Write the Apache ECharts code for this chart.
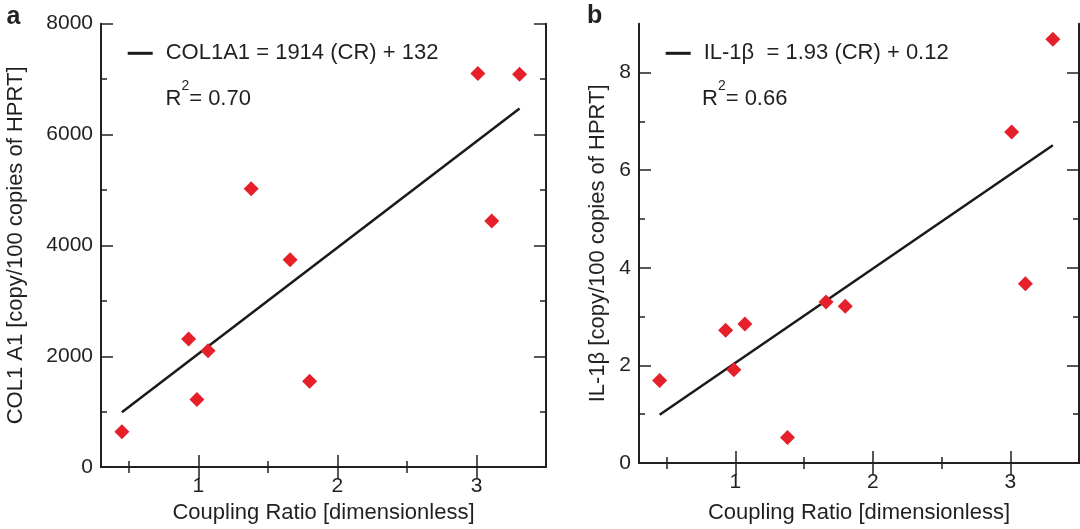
<!DOCTYPE html>
<html>
<head>
<meta charset="utf-8">
<script src="https://cdn.jsdelivr.net/npm/echarts@6.0.0/dist/echarts.min.js"></script>
<style>
  html, body { margin: 0; padding: 0; background: #fff; }
  #chart { width: 1080px; height: 529px; }
</style>
</head>
<body>
<div id="chart"></div>
<script>
// coupling ratio of each sample (shared by both panels)
const couplingRatio = [0.45, 0.93, 0.99, 1.07, 1.38, 1.66, 1.80, 3.01, 3.11, 3.31]
const col1a1 = [640, 2310, 1220, 2100, 5020, 3740, 1550, 7100, 4440, 7090]
const il1b = [1.69, 2.72, 1.91, 2.85, 0.52, 3.30, 3.21, 6.78, 3.67, 8.68]

// regression lines, read at both ends of the data range
const fitRange = [0.45, 3.31]
const col1a1Fit = [990, 6470]
const il1bFit = [0.99, 6.51]

const xTicks = [1, 2, 3]
const xMinorTicks = [0.5, 1.5, 2.5]
const col1a1Ticks = [0, 2000, 4000, 6000, 8000]
const col1a1MinorTicks = [1000, 3000, 5000, 7000]
const il1bTicks = [0, 2, 4, 6, 8]
const il1bMinorTicks = [1, 3, 5, 7]

const col1a1Name = 'COL1A1 = 1914 (CR) + 132'
const il1bName = 'IL-1\u03b2  = 1.93 (CR) + 0.12'

const ink = '#231f20'
const red = '#e5202a'
const fontFamily = '"Liberation Sans", Arial, Helvetica, sans-serif'

const chart = echarts.init(document.getElementById('chart'), null, { renderer: 'canvas' })

const frame = { show: true, lineStyle: { color: ink, width: 2 } }

// one box side = a major axis (line, long ticks, labels) + a minor axis (short ticks only)
function side (type, gridIndex, position, min, max, ticks, minorTicks, opts) {
  const major = Object.assign({
    type: 'value',
    gridIndex,
    position,
    min,
    max,
    axisLine: frame,
    splitLine: { show: false },
    axisTick: { show: true, inside: true, length: 12, customValues: ticks, lineStyle: { color: ink, width: 1.5 } },
    axisLabel: {
      show: false,
      customValues: ticks,
      fontSize: 21,
      color: ink,
      margin: type === 'x' ? 9 : 8,
      formatter: v => String(v)
    }
  }, opts || {})
  const minor = {
    type: 'value',
    gridIndex,
    position,
    min,
    max,
    axisLine: { show: false },
    splitLine: { show: false },
    axisTick: { show: true, inside: true, length: 6, customValues: minorTicks, lineStyle: { color: ink, width: 1.5 } },
    axisLabel: { show: false }
  }
  return [major, minor]
}

function nameStyle () {
  return { fontSize: 22, color: ink, fontFamily }
}

const xAxis = [].concat(
  side('x', 0, 'bottom', 0.3, 3.5, xTicks, xMinorTicks, {
    name: 'Coupling Ratio [dimensionless]', nameLocation: 'middle', nameGap: 34, nameTextStyle: nameStyle()
  }),
  side('x', 0, 'top', 0.3, 3.5, xTicks, xMinorTicks),
  side('x', 1, 'bottom', 0.3, 3.5, xTicks, xMinorTicks, {
    name: 'Coupling Ratio [dimensionless]', nameLocation: 'middle', nameGap: 39, nameTextStyle: nameStyle()
  }),
  side('x', 1, 'top', 0.3, 3.5, xTicks, xMinorTicks)
)
xAxis[0].axisLabel.show = true
xAxis[4].axisLabel.show = true

const yAxis = [].concat(
  side('y', 0, 'left', 0, 8000, col1a1Ticks, col1a1MinorTicks, {
    name: 'COL1 A1 [copy/100 copies of HPRT]', nameLocation: 'middle', nameGap: 74, nameTextStyle: nameStyle()
  }),
  side('y', 0, 'right', 0, 8000, col1a1Ticks, col1a1MinorTicks),
  side('y', 1, 'left', 0, 9, il1bTicks, il1bMinorTicks, {
    name: 'IL-1\u03b2 [copy/100 copies of HPRT]', nameLocation: 'middle', nameGap: 30, nameTextStyle: nameStyle()
  }),
  side('y', 1, 'right', 0, 9, il1bTicks, il1bMinorTicks)
)
yAxis[0].axisLabel.show = true
yAxis[4].axisLabel.show = true

const r2Rich = {
  r: { fontSize: 22, fontWeight: 'normal', lineHeight: 33, verticalAlign: 'bottom', color: ink, fontFamily },
  sup: { fontSize: 14, fontWeight: 'normal', lineHeight: 14, verticalAlign: 'top', color: ink, fontFamily, padding: [2, 0, 0, 0] }
}

chart.setOption({
  animation: false,
  textStyle: { fontFamily, color: ink },
  grid: [
    { left: 101, top: 23.7, width: 445, height: 444.6 },
    { left: 639, top: 23.7, width: 440, height: 439.6 }
  ],
  xAxis,
  yAxis,
  title: [
    { text: 'a', left: 6.5, top: 5, padding: 0, textStyle: { fontSize: 25, fontWeight: 'bold', color: ink } },
    { text: 'b', left: 587, top: 4, padding: 0, textStyle: { fontSize: 25, fontWeight: 'bold', color: ink } },
    { text: '{r|R}{sup|2}{r|= 0.70}', left: 165.5, top: 76.7, padding: 0, textStyle: { fontWeight: 'normal', rich: r2Rich } },
    { text: '{r|R}{sup|2}{r|= 0.66}', left: 702, top: 76.7, padding: 0, textStyle: { fontWeight: 'normal', rich: r2Rich } }
  ],
  legend: [
    {
      data: [col1a1Name],
      left: 127.7,
      top: 42.3,
      padding: 0,
      icon: 'rect',
      itemWidth: 25,
      itemHeight: 3,
      selectedMode: false,
      textStyle: { fontSize: 22, color: ink, padding: [0, 0, 0, 8] }
    },
    {
      data: [il1bName],
      left: 665.7,
      top: 42.3,
      padding: 0,
      icon: 'rect',
      itemWidth: 25,
      itemHeight: 3,
      selectedMode: false,
      textStyle: { fontSize: 22, color: ink, padding: [0, 0, 0, 8] }
    }
  ],
  series: [
    {
      name: col1a1Name,
      type: 'line',
      xAxisIndex: 0,
      yAxisIndex: 0,
      data: fitRange.map((x, i) => [x, col1a1Fit[i]]),
      showSymbol: false,
      color: '#1a1a1a',
      lineStyle: { color: '#1a1a1a', width: 2.5 },
      z: 2
    },
    {
      name: 'COL1A1 samples',
      type: 'scatter',
      xAxisIndex: 0,
      yAxisIndex: 0,
      data: couplingRatio.map((x, i) => [x, col1a1[i]]),
      symbol: 'diamond',
      symbolSize: 15,
      itemStyle: { color: red, opacity: 1 },
      z: 3
    },
    {
      name: il1bName,
      type: 'line',
      xAxisIndex: 4,
      yAxisIndex: 4,
      data: fitRange.map((x, i) => [x, il1bFit[i]]),
      showSymbol: false,
      color: '#1a1a1a',
      lineStyle: { color: '#1a1a1a', width: 2.5 },
      z: 2
    },
    {
      name: 'IL-1b samples',
      type: 'scatter',
      xAxisIndex: 4,
      yAxisIndex: 4,
      data: couplingRatio.map((x, i) => [x, il1b[i]]),
      symbol: 'diamond',
      symbolSize: 15,
      itemStyle: { color: red, opacity: 1 },
      z: 3
    }
  ]
})
</script>
</body>
</html>
